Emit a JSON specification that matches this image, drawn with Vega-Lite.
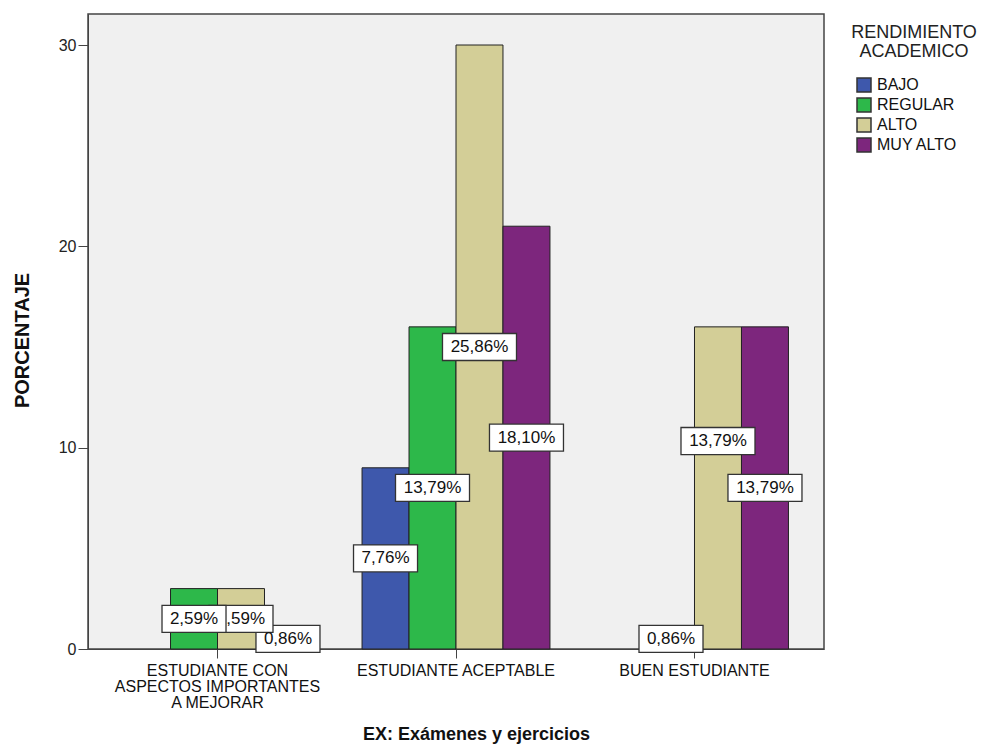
{
  "$schema": "https://vega.github.io/schema/vega-lite/v6.json",
  "autosize": {"type": "none"},
  "padding": {"left": 88, "top": 14, "right": 173, "bottom": 100},
  "width": 736,
  "height": 635,
  "background": "white",
  "config": {
    "font": "Liberation Sans",
    "view": {"fill": "#f0f0f0", "stroke": "#444", "strokeWidth": 1.5},
    "axis": {"grid": false}
  },
  "data": {
    "values": [
      {"grupo": "ESTUDIANTE CON|ASPECTOS IMPORTANTES|A MEJORAR", "nivel": "MUY ALTO", "count": 1, "pct": "0,86%"},
      {"grupo": "ESTUDIANTE CON|ASPECTOS IMPORTANTES|A MEJORAR", "nivel": "ALTO", "count": 3, "pct": "2,59%"},
      {"grupo": "ESTUDIANTE CON|ASPECTOS IMPORTANTES|A MEJORAR", "nivel": "REGULAR", "count": 3, "pct": "2,59%"},
      {"grupo": "ESTUDIANTE ACEPTABLE", "nivel": "BAJO", "count": 9, "pct": "7,76%"},
      {"grupo": "ESTUDIANTE ACEPTABLE", "nivel": "REGULAR", "count": 16, "pct": "13,79%"},
      {"grupo": "ESTUDIANTE ACEPTABLE", "nivel": "ALTO", "count": 30, "pct": "25,86%"},
      {"grupo": "ESTUDIANTE ACEPTABLE", "nivel": "MUY ALTO", "count": 21, "pct": "18,10%"},
      {"grupo": "BUEN ESTUDIANTE", "nivel": "REGULAR", "count": 1, "pct": "0,86%"},
      {"grupo": "BUEN ESTUDIANTE", "nivel": "ALTO", "count": 16, "pct": "13,79%"},
      {"grupo": "BUEN ESTUDIANTE", "nivel": "MUY ALTO", "count": 16, "pct": "13,79%"}
    ]
  },
  "transform": [
    {"calculate": "datum.count / 2 + (datum.grupo == 'BUEN ESTUDIANTE' && datum.nivel == 'ALTO' ? 2.33 : 0)", "as": "labelY"}
  ],
  "encoding": {
    "x": {
      "field": "grupo",
      "type": "nominal",
      "sort": ["ESTUDIANTE CON|ASPECTOS IMPORTANTES|A MEJORAR", "ESTUDIANTE ACEPTABLE", "BUEN ESTUDIANTE"],
      "scale": {"paddingInner": 0.212, "paddingOuter": 0.149},
      "axis": {
        "title": "EX: Exámenes y ejercicios",
        "labelExpr": "split(datum.label, '|')",
        "labelAngle": 0,
        "labelFontSize": 16,
        "labelLineHeight": 16,
        "labelColor": "#111",
        "labelLimit": 400,
        "labelOverlap": false,
        "labelBaseline": "top",
        "tickSize": 9,
        "labelPadding": 4,
        "tickColor": "#444",
        "domainColor": "#444",
        "titleFontSize": 18,
        "titleFontWeight": "bold",
        "titleColor": "#111",
        "titleX": 388,
        "titleY": 90,
        "titleAlign": "center",
        "titleBaseline": "alphabetic"
      }
    },
    "xOffset": {
      "field": "nivel",
      "type": "nominal",
      "scale": {"domain": ["BAJO", "REGULAR", "ALTO", "MUY ALTO"], "paddingInner": 0, "paddingOuter": 0}
    }
  },
  "layer": [
    {
      "mark": {"type": "bar", "stroke": "#222", "strokeWidth": 1},
      "encoding": {
        "y": {
          "field": "count",
          "type": "quantitative",
          "title": "PORCENTAJE",
          "scale": {"domain": [0, 31.54], "nice": false, "zero": true},
          "axis": {
            "title": "PORCENTAJE",
            "values": [0, 10, 20, 30],
            "tickSize": 10,
            "labelPadding": 2,
            "labelFontSize": 16,
            "labelColor": "#222",
            "tickColor": "#444",
            "domainColor": "#444",
            "titleFontSize": 20,
            "titleFontWeight": "bold",
            "titleColor": "#111",
            "titleX": -56,
            "titleY": 326,
            "titleAngle": -90,
            "titleAlign": "center",
            "titleBaseline": "bottom"
          }
        },
        "color": {
          "field": "nivel",
          "type": "nominal",
          "scale": {"domain": ["BAJO", "REGULAR", "ALTO", "MUY ALTO"], "range": ["#3e58ac", "#2db84a", "#d3ce97", "#7d267d"]},
          "legend": {
            "orient": "none",
            "legendX": 763,
            "legendY": 10,
            "title": ["RENDIMIENTO", "ACADEMICO"],
            "titleFontSize": 18,
            "titleFontWeight": "normal",
            "titleColor": "#222",
            "titleAnchor": "middle",
            "titleAlign": "center",
            "titleLineHeight": 19,
            "titlePadding": 16,
            "labelFontSize": 16,
            "labelColor": "#111",
            "symbolType": "square",
            "symbolSize": 196,
            "symbolStrokeColor": "#333",
            "symbolStrokeWidth": 1.5,
            "symbolOpacity": 1,
            "symbolOffset": -15,
            "labelOffset": 5,
            "rowPadding": 0,
            "padding": 0
          }
        }
      }
    },
    {
      "transform": [{"filter": "datum.nivel == 'ALTO' || datum.nivel == 'MUY ALTO'"}],
      "mark": {"type": "point", "filled": true, "fill": "white", "stroke": "#333", "strokeWidth": 1.3, "opacity": 1, "size": 5476},
      "encoding": {
        "y": {"field": "labelY", "type": "quantitative", "title": "PORCENTAJE"},
        "shape": {
          "condition": {"test": "length(datum.pct) == 5", "value": "M-0.865,-0.365L0.865,-0.365L0.865,0.365L-0.865,0.365Z"},
          "value": "M-1,-0.365L1,-0.365L1,0.365L-1,0.365Z"
        }
      }
    },
    {
      "transform": [{"filter": "datum.nivel == 'ALTO' || datum.nivel == 'MUY ALTO'"}],
      "mark": {"type": "text", "fontSize": 17, "fill": "#111", "align": "center", "baseline": "middle"},
      "encoding": {
        "y": {"field": "labelY", "type": "quantitative", "title": "PORCENTAJE"},
        "text": {"field": "pct", "type": "nominal"}
      }
    },
    {
      "transform": [{"filter": "datum.nivel == 'BAJO' || datum.nivel == 'REGULAR'"}],
      "mark": {"type": "point", "filled": true, "fill": "white", "stroke": "#333", "strokeWidth": 1.3, "opacity": 1, "size": 5476},
      "encoding": {
        "y": {"field": "labelY", "type": "quantitative", "title": "PORCENTAJE"},
        "shape": {
          "condition": {"test": "length(datum.pct) == 5", "value": "M-0.865,-0.365L0.865,-0.365L0.865,0.365L-0.865,0.365Z"},
          "value": "M-1,-0.365L1,-0.365L1,0.365L-1,0.365Z"
        }
      }
    },
    {
      "transform": [{"filter": "datum.nivel == 'BAJO' || datum.nivel == 'REGULAR'"}],
      "mark": {"type": "text", "fontSize": 17, "fill": "#111", "align": "center", "baseline": "middle"},
      "encoding": {
        "y": {"field": "labelY", "type": "quantitative", "title": "PORCENTAJE"},
        "text": {"field": "pct", "type": "nominal"}
      }
    }
  ]
}
